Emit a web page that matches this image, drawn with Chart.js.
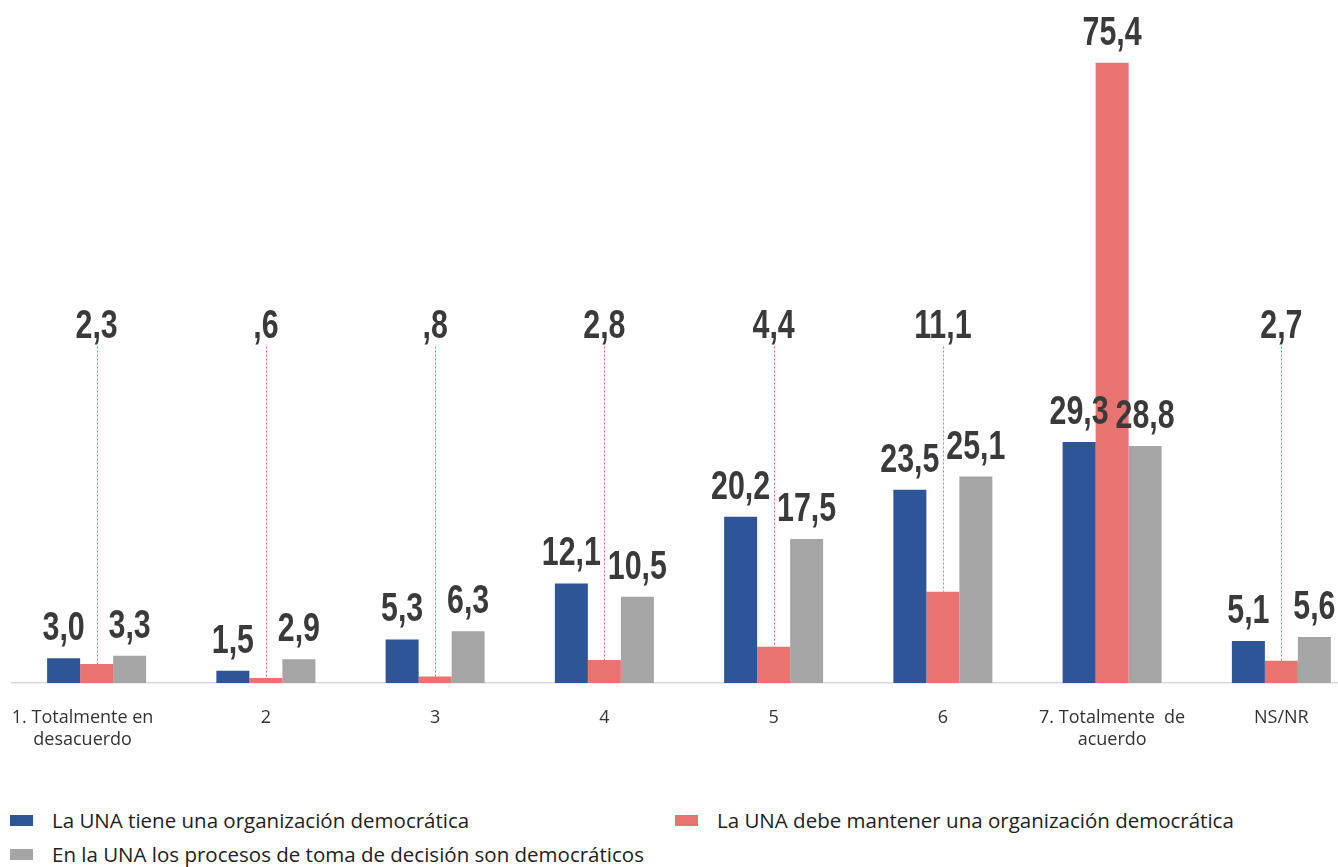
<!DOCTYPE html>
<html>
<head>
<meta charset="utf-8">
<script src="https://cdn.jsdelivr.net/npm/chart.js@4"></script>
<style>
  html, body { margin: 0; padding: 0; background: #fff; overflow: hidden; }
  .wrap { position: relative; width: 1338px; height: 867px; overflow: hidden; }
  .plot { position: absolute; left: 0; top: 0; width: 1380px; height: 790px; }
  .legend { position: absolute; font-family: "Open Sans", "Noto Sans", sans-serif; font-size: 20.5px; color: #222; white-space: nowrap; }
  .legend span.sw { display: inline-block; width: 23px; height: 11px; margin-right: 19px; vertical-align: 2px; }
</style>
</head>
<body>
<div class="wrap">
  <div class="plot"><canvas id="chart" width="1380" height="790"></canvas></div>
  <div class="legend" style="left:10px; top:806px"><span class="sw" style="background:#2E5597"></span>La UNA tiene una organización democrática</div>
  <div class="legend" style="left:675px; top:806px"><span class="sw" style="background:#E97371"></span>La UNA debe mantener una organización democrática</div>
  <div class="legend" style="left:10px; top:840px"><span class="sw" style="background:#A5A5A5"></span>En la UNA los procesos de toma de decisión son democráticos</div>
</div>
<script>
// trailing spaces on the first label nudge it left, the way the original sits at the edge
const categories = [
  ['1. Totalmente en      ', 'desacuerdo      '], '2', '3', '4', '5', '6', ['7. Totalmente  de', 'acuerdo'], 'NS/NR'
]
const tieneValues = [3.0, 1.5, 5.3, 12.1, 20.2, 23.5, 29.3, 5.1]
const debeValues = [2.3, 0.6, 0.8, 2.8, 4.4, 11.1, 75.4, 2.7]
const procesosValues = [3.3, 2.9, 6.3, 10.5, 17.5, 25.1, 28.8, 5.6]

const fmt = v => {
  const s = v.toFixed(1).replace('.', ',')
  return s.startsWith('0') ? s.slice(1) : s
}

const RED_LABEL_LEVEL = 42 // small red values get their label lifted to this height

const labelsPlugin = {
  id: 'barLabels',
  afterDatasetsDraw(chart) {
    const ctx = chart.ctx
    const yScale = chart.scales.y
    ctx.save()
    ctx.font = 'bold 40px "Liberation Sans", Arial, sans-serif'
    ctx.fillStyle = '#3A3A3A'
    ctx.textAlign = 'center'
    ctx.textBaseline = 'alphabetic'
    chart.data.datasets.forEach((ds, di) => {
      const meta = chart.getDatasetMeta(di)
      meta.data.forEach((bar, i) => {
        const v = ds.data[i]
        let baseY = bar.y - 18
        if (di === 1 && v < 20) {
          baseY = yScale.getPixelForValue(RED_LABEL_LEVEL)
          ctx.save()
          ctx.strokeStyle = '#E97371'
          ctx.lineWidth = 1
          ctx.setLineDash([2, 2])
          ctx.beginPath()
          ctx.moveTo(Math.round(bar.x) + 0.5, baseY + 9)
          ctx.lineTo(Math.round(bar.x) + 0.5, bar.y)
          ctx.stroke()
          ctx.restore()
        }
        ctx.save()
        ctx.translate(bar.x, baseY)
        ctx.scale(0.76, 1)
        ctx.fillText(fmt(v), 0, 0)
        ctx.restore()
      })
    })
    ctx.restore()
  }
}

const ctx = document.getElementById('chart').getContext('2d')
new Chart(ctx, {
  type: 'bar',
  data: {
    labels: categories,
    datasets: [
      { label: 'La UNA tiene una organización democrática', data: tieneValues, backgroundColor: '#2E5597' },
      { label: 'La UNA debe mantener una organización democrática', data: debeValues, backgroundColor: '#E97371' },
      { label: 'En la UNA los procesos de toma de decisión son democráticos', data: procesosValues, backgroundColor: '#A5A5A5' }
    ]
  },
  options: {
    responsive: false,
    animation: false,
    layout: { padding: { top: 25, left: 12, right: 14, bottom: 0 } },
    datasets: {
      bar: { barPercentage: 1, categoryPercentage: 0.585 }
    },
    plugins: {
      legend: { display: false },
      tooltip: { enabled: false }
    },
    scales: {
      x: {
        // invisible tick marks give the vertical gap under the axis
        grid: { display: true, drawOnChartArea: false, drawTicks: true, tickLength: 24, color: 'rgba(0,0,0,0)' },
        border: { display: true, color: '#D9D9D9', width: 1.5 },
        ticks: {
          padding: 0,
          color: '#333',
          font: { family: '"Open Sans", "Noto Sans", sans-serif', size: 18, lineHeight: 1.22 },
          maxRotation: 0,
          autoSkip: false
        },
        afterFit(scale) { scale.height = 107 }
      },
      y: {
        display: false,
        min: 0,
        max: 80
      }
    }
  },
  plugins: [labelsPlugin]
})
</script>
</body>
</html>
